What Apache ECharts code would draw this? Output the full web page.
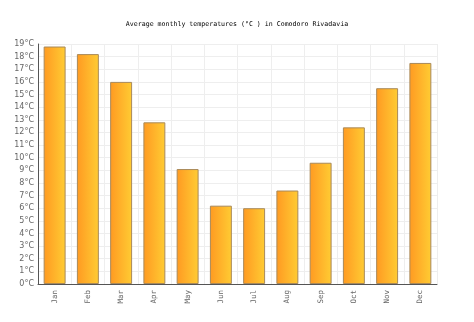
<!DOCTYPE html>
<html><head><meta charset="utf-8">
<script src="https://cdn.jsdelivr.net/npm/echarts@6/dist/echarts.min.js"></script>
<style>html,body{margin:0;padding:0;background:#fff}#c{width:474px;height:322px}</style>
</head><body><div id="c"></div>
<script>
const titleText = 'Average monthly temperatures (°C ) in Comodoro Rivadavia';
const months = ['Jan','Feb','Mar','Apr','May','Jun','Jul','Aug','Sep','Oct','Nov','Dec'];
const temps = [18.8, 18.2, 16.0, 12.8, 9.1, 6.2, 6.0, 7.4, 9.6, 12.4, 15.5, 17.5];
const yMin = 0, yMax = 19, yStep = 1;

const chart = echarts.init(document.getElementById('c'), null, {renderer: 'canvas'});
chart.setOption({
  animation: false,
  backgroundColor: '#fff',
  title: {
    text: titleText, left: 'center', top: 16,
    textStyle: {fontFamily: 'DejaVu Sans Mono', fontSize: 6.6, fontWeight: 'normal', color: '#000'}
  },
  grid: {left: 38, right: 37, top: 44, bottom: 38},
  xAxis: {
    type: 'category', data: months, boundaryGap: true,
    axisLine: {show: true, lineStyle: {color: '#555', width: 1}},
    axisTick: {show: false},
    splitLine: {show: true, lineStyle: {color: '#eeeeee'}},
    axisLabel: {rotate: 90, color: '#666', fontSize: 7.5, fontFamily: 'DejaVu Sans Mono', margin: 6}
  },
  yAxis: {
    type: 'value', min: yMin, max: yMax, interval: yStep,
    axisLine: {show: true, lineStyle: {color: '#555', width: 1}},
    axisTick: {show: false},
    splitLine: {show: true, lineStyle: {color: '#eeeeee'}},
    axisLabel: {formatter: '{value}°C', color: '#666', fontSize: 8, fontFamily: 'DejaVu Sans', margin: 4}
  },
  series: [{
    type: 'bar', data: temps, barWidth: '66%',
    itemStyle: {
      color: new echarts.graphic.LinearGradient(0, 0, 1, 0, [
        {offset: 0, color: '#FF9A22'}, {offset: 1, color: '#FFCC33'}
      ]),
      borderColor: '#A8895A', borderWidth: 1
    }
  }]
});
</script></body></html>
